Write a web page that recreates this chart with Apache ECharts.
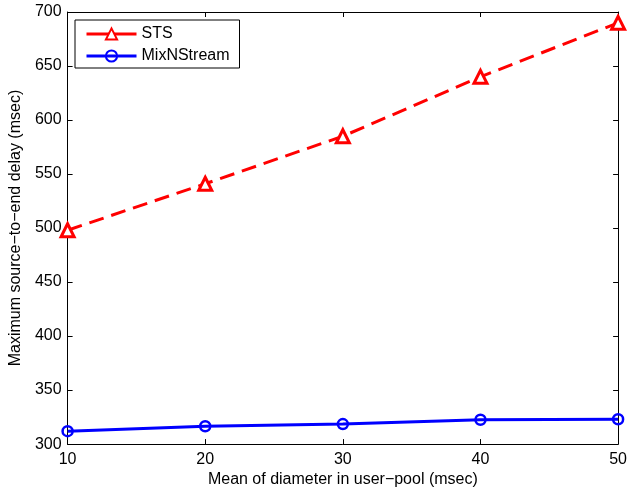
<!DOCTYPE html>
<html>
<head>
<meta charset="utf-8">
<script src="https://cdn.jsdelivr.net/npm/echarts@6/dist/echarts.min.js"></script>
<style>
html,body{margin:0;padding:0;background:#fff;}
#chart{width:630px;height:493px;}
</style>
</head>
<body>
<div id="chart"></div>
<script>
const xValues = [10, 20, 30, 40, 50];
const stsValues = [498, 541, 585, 640, 690];
const mixValues = [312, 316.5, 318.5, 322.5, 323];
const seriesNames = ['STS', 'MixNStream'];
const xTitle = 'Mean of diameter in user\u2212pool (msec)';
const yTitle = 'Maximum source\u2212to\u2212end delay (msec)';

const font = 'Liberation Sans, Arial, Helvetica, sans-serif';
const chart = echarts.init(document.getElementById('chart'), null, {renderer: 'canvas'});

const baseAxis = {
  axisLine: {show: true, lineStyle: {color: '#000', width: 1}},
  axisTick: {show: true, inside: true, length: 5, lineStyle: {color: '#000', width: 1}},
  splitLine: {show: false},
  axisLabel: {color: '#000', fontSize: 16, fontFamily: font}
};

chart.setOption({
  animation: false,
  backgroundColor: '#fff',
  textStyle: {fontFamily: font},
  grid: {left: 67, right: 11, top: 12, bottom: 47, containLabel: false},
  legend: {
    left: 75, top: 20,
    orient: 'vertical',
    backgroundColor: '#fff',
    borderColor: '#000', borderWidth: 1, borderRadius: 0,
    padding: [6, 10, 4, 10],
    itemWidth: 50, itemHeight: 14, itemGap: 6,
    textStyle: {color: '#000', fontSize: 16, fontFamily: font},
    data: seriesNames.map(n => ({name: n, lineStyle: {type: 'solid', width: 3}}))
  },
  xAxis: [
    Object.assign({}, baseAxis, {
      type: 'value', min: 10, max: 50, interval: 10, position: 'bottom',
      axisLabel: Object.assign({}, baseAxis.axisLabel, {margin: 7}),
      name: xTitle, nameLocation: 'middle', nameGap: 26,
      nameTextStyle: {color: '#000', fontSize: 16, fontFamily: font}
    }),
    Object.assign({}, baseAxis, {
      type: 'value', min: 10, max: 50, interval: 10, position: 'top',
      axisLabel: {show: false}
    })
  ],
  yAxis: [
    Object.assign({}, baseAxis, {
      type: 'value', min: 300, max: 700, interval: 50, position: 'left',
      axisLabel: Object.assign({}, baseAxis.axisLabel, {margin: 6}),
      name: yTitle, nameLocation: 'middle', nameGap: 40,
      nameTextStyle: {color: '#000', fontSize: 16, fontFamily: font}
    }),
    Object.assign({}, baseAxis, {
      type: 'value', min: 300, max: 700, interval: 50, position: 'right',
      axisLabel: {show: false}
    })
  ],
  series: [
    {
      name: seriesNames[0], type: 'line', clip: false,
      data: xValues.map((x, i) => [x, stsValues[i]]),
      symbol: 'triangle', symbolSize: 13,
      lineStyle: {color: '#ff0000', width: 3, type: [15, 8]},
      itemStyle: {color: '#ffffff', borderColor: '#ff0000', borderWidth: 3},
      emphasis: {disabled: true}
    },
    {
      name: seriesNames[1], type: 'line', clip: false,
      data: xValues.map((x, i) => [x, mixValues[i]]),
      symbol: 'circle', symbolSize: 10,
      lineStyle: {color: '#0000ff', width: 3},
      itemStyle: {color: 'rgba(255,255,255,0)', borderColor: '#0000ff', borderWidth: 2.5},
      emphasis: {disabled: true}
    }
  ]
});
</script>
</body>
</html>
